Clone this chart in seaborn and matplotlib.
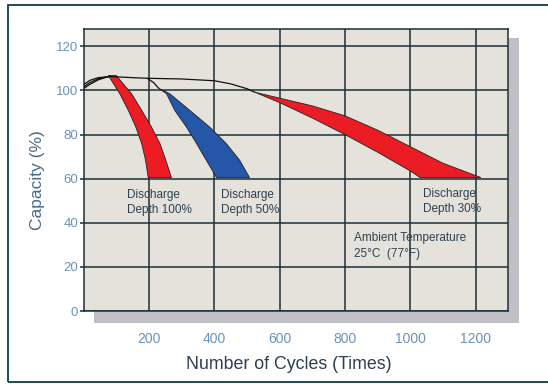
import seaborn as sns
import matplotlib
matplotlib.use('Agg')
from matplotlib import pyplot as plt
from matplotlib.patches import Rectangle

# start of the three curves (0 -> peak)
start_x = [0, 20, 45, 80]
start_100 = [100.8, 102.8, 104.8, 106.5]
start_50 = [101.6, 103.6, 105.3, 106.3]
start_30 = [102.6, 104.6, 105.8, 106.3]

# shared upper line of the 50% / 30% curves
main_x = [80, 150, 200, 300, 400, 450, 500, 524]
main_y = [106.3, 105.8, 105.5, 105.2, 104.4, 103.0, 100.8, 99.2]

# 50% curve leaving the main line
branch50_x = [195, 215, 230]
branch50_y = [105.5, 103.5, 101.0]

# discharge depth 100% band
d100_y = [106.8, 98.5, 91, 83.4, 75.9, 68.3, 60.5]
d100_left = [76, 111, 137, 160, 178, 190, 198]
d100_right = [100, 147, 178, 208, 234, 252, 269]

# discharge depth 50% band
d50_y = [101, 98.5, 91, 83.4, 75.9, 68.3, 60.5]
d50_left = [230, 254, 279, 315, 346, 376, 407]
d50_right = [230, 264, 325, 386, 437, 478, 508]

# discharge depth 30% band
d30_upper_x = [524, 600, 700, 800, 900, 1000, 1100, 1216]
d30_upper_y = [99.2, 96.5, 93.0, 88.5, 82.0, 74.5, 67.0, 60.5]
d30_lower_x = [524, 600, 700, 800, 900, 1000, 1030]
d30_lower_y = [99.2, 94.5, 87.5, 80.0, 72.0, 63.5, 60.5]

x_ticks = [200, 400, 600, 800, 1000, 1200]
y_ticks = [0, 20, 40, 60, 80, 100, 120]

sns.set_theme(style='white')
plt.rcParams['font.family'] = ['Liberation Sans', 'DejaVu Sans']

grid_col = '#1c3034'
text_col = '#2d4250'

fig = plt.figure(figsize=(5.48, 3.84), dpi=100)
fig.patch.set_facecolor('white')

# drop shadow behind the plot area and the outer frame
fig.patches.append(Rectangle((0.1715, 0.159), 0.7755, 0.742, transform=fig.transFigure,
                             facecolor='#c0bfc5', edgecolor='none', zorder=-2))
fig.patches.append(Rectangle((0.0146, 0.0065), 1.0, 0.9805, transform=fig.transFigure,
                             facecolor='none', edgecolor='#1d4b52', lw=1.4, zorder=-1))

ax = fig.add_axes([0.1524, 0.1901, 0.7752, 0.7352])
ax.set_facecolor('#e5e1db')

# bands
ax.fill(d100_left + d100_right[::-1], d100_y + d100_y[::-1],
        facecolor='#ec1c24', edgecolor='#222222', lw=0.6, zorder=3)
ax.fill(d50_left + d50_right[::-1], d50_y + d50_y[::-1],
        facecolor='#2557a8', edgecolor='#222222', lw=0.6, zorder=3)
ax.fill(d30_lower_x + d30_upper_x[::-1], d30_lower_y + d30_upper_y[::-1],
        facecolor='#ec1c24', edgecolor='#222222', lw=0.6, zorder=3)

# thin black curves
for ys in [start_100, start_50, start_30]:
    sns.lineplot(x=start_x, y=ys, color='#111111', lw=0.9, ax=ax, zorder=4)
sns.lineplot(x=main_x, y=main_y, sort=False, color='#111111', lw=0.9, ax=ax, zorder=4)
sns.lineplot(x=branch50_x, y=branch50_y, sort=False, color='#111111', lw=0.9, ax=ax, zorder=4)

ax.set_xlim(0, 1300)
ax.set_ylim(0, 128)
ax.set_xticks(x_ticks)
ax.set_yticks(y_ticks)
ax.grid(True, color=grid_col, lw=1.1, zorder=1)
ax.set_axisbelow(True)
for s in ax.spines.values():
    s.set_color(grid_col)
    s.set_linewidth(1.1)

ax.tick_params(axis='x', length=0, pad=15, labelsize=10, labelcolor='#6a93bb')
ax.tick_params(axis='y', left=True, length=3, width=1.1, color=grid_col, pad=1,
               labelsize=9.5, labelcolor='#6a93bb')

ax.set_xlabel('Number of Cycles (Times)', fontsize=12.8, color='#2a3f55')
ax.xaxis.set_label_coords(0.483, -0.16)
ax.set_ylabel('Capacity (%)', fontsize=12.5, color='#4a6a8a')
ax.yaxis.set_label_coords(-0.09, 0.464)

# annotations
ax.text(132, 49.2, 'Discharge\nDepth 100%', fontsize=8.5, color=text_col,
        ha='left', va='center', linespacing=1.35, zorder=5)
ax.text(420, 49.2, 'Discharge\nDepth 50%', fontsize=8.5, color=text_col,
        ha='left', va='center', linespacing=1.35, zorder=5)
ax.text(1040, 49.5, 'Discharge\nDepth 30%', fontsize=8.5, color=text_col,
        ha='left', va='center', linespacing=1.35, zorder=5)
ax.text(829, 29.5, 'Ambient Temperature\n25°C  (77°F)', fontsize=8.5, color=text_col,
        ha='left', va='center', linespacing=1.35, zorder=5)

plt.savefig('out.png', dpi=100)
